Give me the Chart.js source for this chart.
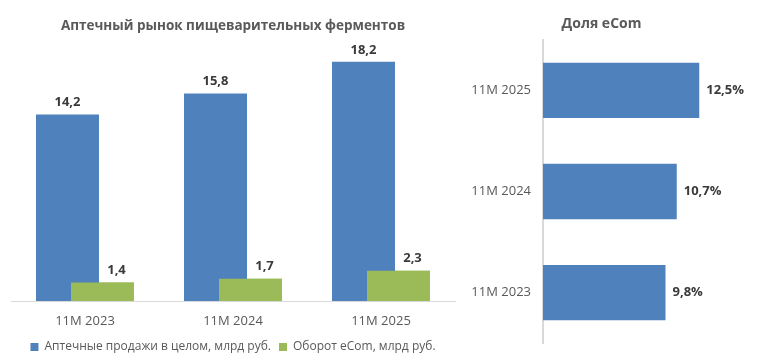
<!DOCTYPE html>
<html>
<head>
<meta charset="utf-8">
<script src="https://cdn.jsdelivr.net/npm/chart.js@4"></script>
<style>
    body { margin: 0; background: #fff; }
    .wrap { position: relative; width: 760px; height: 363px; }
    #left { position: absolute; left: 0; top: 0; width: 460px; height: 363px; }
    #right { position: absolute; left: 460px; top: 0; width: 300px; height: 363px; }
</style>
</head>
<body>
<div class="wrap">
    <div id="left"><canvas id="marketChart" width="460" height="363"></canvas></div>
    <div id="right"><canvas id="shareChart" width="300" height="363"></canvas></div>
</div>
<script>
const periods = ['11M 2023', '11M 2024', '11M 2025'];
const pharmacySales = [14.2, 15.8, 18.2];
const ecomTurnover = [1.4, 1.7, 2.3];
const ecomShare = [9.8, 10.7, 12.5];

const seriesNames = ['Аптечные продажи в целом, млрд руб.', 'Оборот eCom, млрд руб.'];
const BLUE = '#4F81BD';
const GREEN = '#9BBB59';
const TEXT = '#595959';
const FONT = "'Open Sans', 'Liberation Sans', sans-serif";

const fmt = v => v.toFixed(1).replace('.', ',');

Chart.defaults.font.family = FONT;
Chart.defaults.color = TEXT;
Chart.defaults.animation = false;

// value labels above / beside bars
const valueLabels = {
    id: 'valueLabels',
    afterDatasetsDraw(chart, args, opts) {
        const ctx = chart.ctx;
        // green bars sit on top of the blue ones
        if (opts.redraw !== undefined) {
            chart.getDatasetMeta(opts.redraw).data.forEach(el => el.draw(ctx));
        }
        ctx.save();
        ctx.font = 'bold 13px ' + FONT;
        ctx.fillStyle = '#3a3a3a';
        chart.data.datasets.forEach((ds, i) => {
            const meta = chart.getDatasetMeta(i);
            meta.data.forEach((bar, j) => {
                const text = fmt(ds.data[j]) + (opts.suffix || '');
                if (opts.horizontal) {
                    ctx.textAlign = 'left';
                    ctx.textBaseline = 'middle';
                    ctx.fillText(text, bar.x + 7, bar.y);
                } else {
                    ctx.textAlign = 'center';
                    ctx.textBaseline = 'middle';
                    const dx = (opts.shift && opts.shift[i]) || 0;
                    ctx.fillText(text, bar.x + dx, bar.y - 12);
                }
            });
        });
        ctx.restore();
    }
};

new Chart(document.getElementById('marketChart'), {
    type: 'bar',
    data: {
        labels: periods,
        datasets: [{
            label: seriesNames[0],
            data: pharmacySales,
            backgroundColor: BLUE,
            categoryPercentage: 0.473,
            barPercentage: 1.8
        }, {
            label: seriesNames[1],
            data: ecomTurnover,
            backgroundColor: GREEN,
            categoryPercentage: 0.473,
            barPercentage: 1.8
        }]
    },
    options: {
        responsive: false,
        layout: { padding: { left: 11, right: 5, bottom: 0 } },
        scales: {
            x: {
                grid: { display: false, drawTicks: false },
                border: { display: true, color: '#d9d9d9', width: 1 },
                ticks: { color: TEXT, font: { size: 13 }, padding: 12 },
                afterFit(scale) { scale.height = 32; }
            },
            y: { display: false, min: 0, max: 20 }
        },
        plugins: {
            title: {
                display: true,
                text: 'Аптечный рынок пищеварительных ферментов',
                color: TEXT,
                font: { size: 13.5, weight: 'bold' },
                padding: { top: 18, bottom: 4 }
            },
            legend: {
                position: 'bottom',
                labels: { boxWidth: 8, boxHeight: 8, color: TEXT, font: { size: 12 }, padding: 8 }
            },
            tooltip: { enabled: false },
            valueLabels: { redraw: 1, shift: [0, 14] }
        }
    },
    plugins: [valueLabels]
});

new Chart(document.getElementById('shareChart'), {
    type: 'bar',
    data: {
        labels: periods,
        datasets: [{
            label: 'Доля eCom',
            data: ecomShare,
            backgroundColor: BLUE,
            categoryPercentage: 1,
            barPercentage: 0.548
        }]
    },
    options: {
        indexAxis: 'y',
        responsive: false,
        layout: { padding: { right: 17, bottom: 9 } },
        scales: {
            x: { display: false, min: 0, max: 16 },
            y: {
                reverse: true,
                grid: { display: false, drawTicks: false },
                border: { display: true, color: '#d9d9d9', width: 2 },
                ticks: { color: TEXT, font: { size: 13 }, padding: 12 },
                afterFit(scale) { scale.width = 83; }
            }
        },
        plugins: {
            title: {
                display: true,
                text: 'Доля eCom',
                color: TEXT,
                font: { size: 14, weight: 'bold' },
                padding: { top: 16, bottom: 7 }
            },
            legend: { display: false },
            tooltip: { enabled: false },
            valueLabels: { horizontal: true, suffix: '%' }
        }
    },
    plugins: [valueLabels]
});
</script>
</body>
</html>
